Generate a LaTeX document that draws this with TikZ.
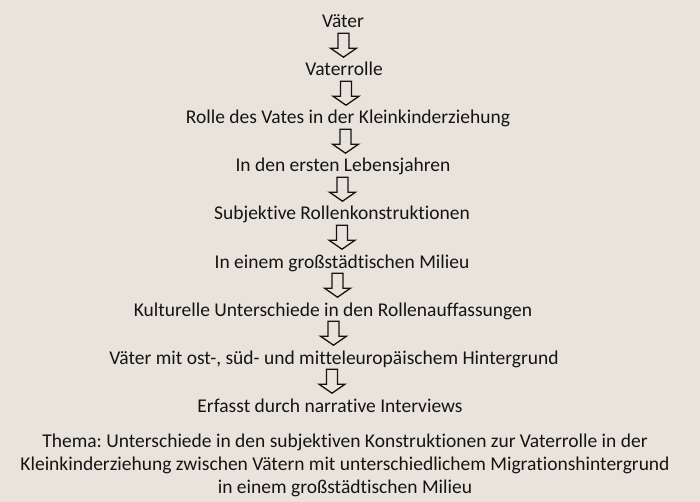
\documentclass[tikz,border=0pt]{standalone}
\usepackage{fontspec}
\setmainfont{Carlito}[Ligatures=NoCommon]
\usetikzlibrary{calc}
\definecolor{paper}{RGB}{232,227,219}
\definecolor{ink}{RGB}{22,20,19}
\frenchspacing

\begin{document}
\begin{tikzpicture}[x=1pt,y=1pt,
    stage/.style={anchor=base,inner sep=0pt,text height=14pt,text depth=4pt,text=ink,font=\fontsize{19.5}{23}\selectfont},
    topic/.style={anchor=base,inner sep=0pt,align=center,text=ink,font=\fontsize{19.5}{23}\selectfont},
    down/.style={draw=ink,line width=1.3pt,line join=miter,to path={let \p1=(\tikztostart.south), \p2=(\tikztotarget.north) in
      (\x1/2+\x2/2-5.5pt,\y1-1pt) -- ++(11pt,0pt) -- ++(0pt,-15pt) -- ++(7.5pt,0pt) -- ++(-13pt,-9pt) -- ++(-13pt,9pt) -- ++(7.5pt,0pt) -- cycle}}]
    \fill[paper] (0,0) rectangle (700,-502);
    \useasboundingbox (0,0) rectangle (700,-502);

    \node[stage] (V) at (343,-28) {Väter};
    \node[stage] (VR) at (344,-76) {Vaterrolle};
    \node[stage] (RK) at (348,-124) {Rolle des Vates in der Kleinkinderziehung};
    \node[stage] (LJ) at (343,-172) {In den ersten Lebensjahren};
    \node[stage] (SR) at (342,-220) {Subjektive Rollenkonstruktionen};
    \node[stage] (GM) at (342,-268) {In einem großstädtischen Milieu};
    \node[stage] (KU) at (333,-316) {Kulturelle Unterschiede in den Rollenauffassungen};
    \node[stage] (HG) at (334,-364) {Väter mit ost-, süd- und mitteleuropäischem Hintergrund};
    \node[stage] (NI) at (330,-412) {Erfasst durch narrative Interviews};
    \node[topic] (TH) at (345,-493) {Thema: Unterschiede in den subjektiven Konstruktionen zur Vaterrolle in der\\Kleinkinderziehung zwischen Vätern mit unterschiedlichem Migrationshintergrund\\in einem großstädtischen Milieu};

    \draw (V) edge[down] (VR);
    \draw (VR) edge[down] (RK);
    \draw (RK) edge[down] (LJ);
    \draw (LJ) edge[down] (SR);
    \draw (SR) edge[down] (GM);
    \draw (GM) edge[down] (KU);
    \draw (KU) edge[down] (HG);
    \draw (HG) edge[down] (NI);
  \end{tikzpicture}
\end{document}
